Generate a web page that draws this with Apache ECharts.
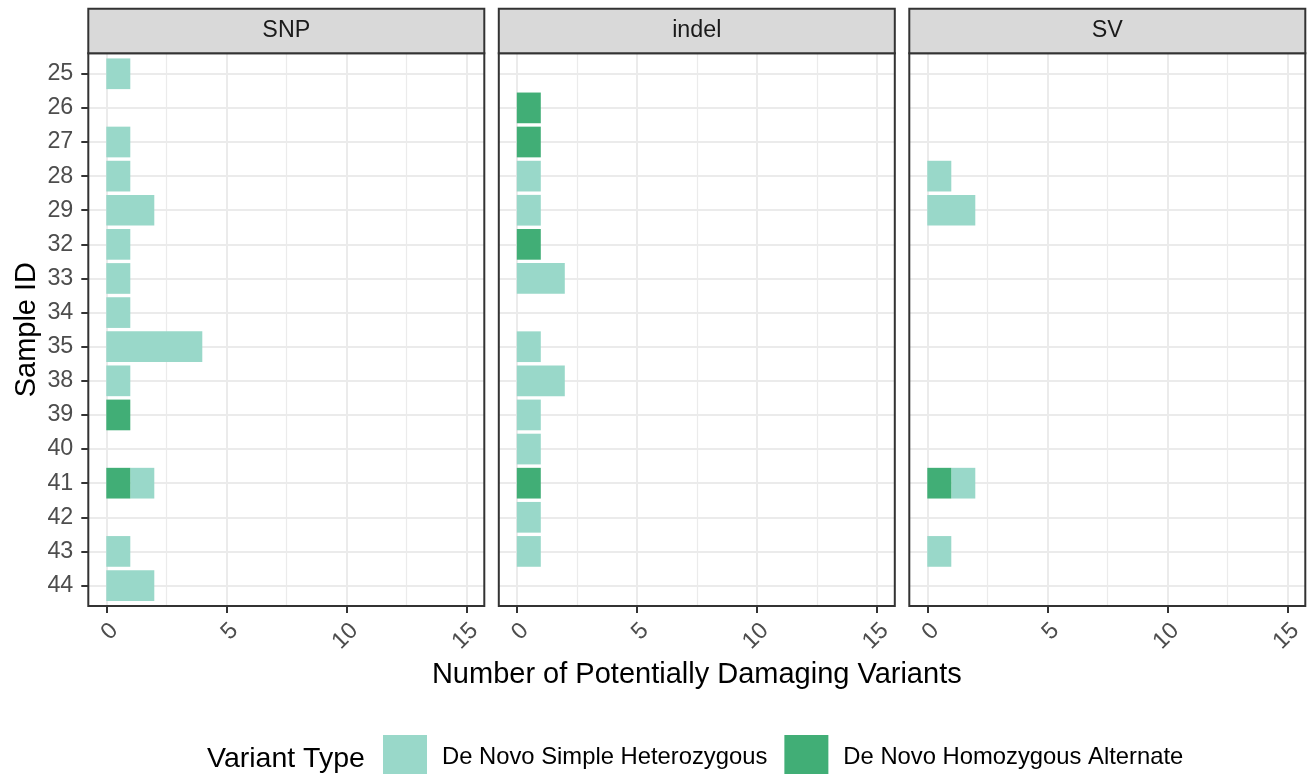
<!DOCTYPE html>
<html><head><meta charset="utf-8">
<script src="https://cdn.jsdelivr.net/npm/echarts@6/dist/echarts.min.js"></script>
<style>html,body{margin:0;padding:0;background:#fff}#chart{width:1310px;height:774px}</style>
</head><body><div id="chart"></div>
<script>
// ---- data ----
const sampleIds = ['25','26','27','28','29','32','33','34','35','38','39','40','41','42','43','44'];
const panelNames = ['SNP', 'indel', 'SV'];
const snpHet   = [1,0,1,1,2,1,1,1,4,1,0,0,1,0,1,2];
const snpHom   = [0,0,0,0,0,0,0,0,0,0,1,0,1,0,0,0];
const indelHet = [0,0,0,1,1,0,2,0,1,2,1,1,0,1,1,0];
const indelHom = [0,1,1,0,0,1,0,0,0,0,0,0,1,0,0,0];
const svHet    = [0,0,0,1,2,0,0,0,0,0,0,0,1,0,1,0];
const svHom    = [0,0,0,0,0,0,0,0,0,0,0,0,1,0,0,0];
const xTickValues = [0, 5, 10, 15];
const xMinorValues = [2.5, 7.5, 12.5];
const typeNames = ['De Novo Simple Heterozygous', 'De Novo Homozygous Alternate'];
const typeColors = ['#99d8c9', '#41ae76'];
const xTitle = 'Number of Potentially Damaging Variants';
const yTitle = 'Sample ID';
const legendTitle = 'Variant Type';

const hetByPanel = [snpHet, indelHet, svHet];
const homByPanel = [snpHom, indelHom, svHom];

// ---- layout ----
const FONT = 'Liberation Sans';
const panelLeft = [88.3, 498.8, 909.3];
const panelW = 396;
const panelTop = 53.3;
const panelH = 552.7;
const stripTop = 8.7;
const stripH = 44.6;
const yIdx = sampleIds.map((_, i) => i);

function renderBar(params, api) {
  const yi = api.value(0);
  const p0 = api.coord([api.value(1), yi]);
  const p1 = api.coord([api.value(2), yi]);
  const h = api.size([0, 0.9])[1];
  return {
    type: 'rect',
    shape: { x: p0[0], y: p0[1] - h / 2, width: p1[0] - p0[0], height: h },
    style: { fill: api.visual('color') }
  };
}

const grids = [], xAxes = [], yAxes = [], series = [], graphics = [];
panelNames.forEach((name, p) => {
  grids.push({ left: panelLeft[p], top: panelTop, width: panelW, height: panelH, outerBoundsMode: 'none', show: false });
  xAxes.push({
    type: 'value', gridIndex: p, min: -0.75, max: 15.75, splitNumber: 3, position: 'bottom',
    axisLine: { show: false, onZero: false },
    axisTick: { show: true, customValues: xTickValues, length: 7, lineStyle: { color: '#333333', width: 2 } },
    axisLabel: { show: true, customValues: xTickValues, rotate: 45, align: 'right', verticalAlign: 'top', margin: 13,
      fontFamily: FONT, fontSize: 23.3, color: '#4d4d4d' },
    splitLine: { show: true, lineStyle: { color: '#ebebeb', width: 2 } },
    name: p === 1 ? xTitle : '', nameLocation: 'middle', nameGap: 54,
    nameTextStyle: { fontFamily: FONT, fontSize: 29, color: '#000000' }
  });
  yAxes.push({
    type: 'value', gridIndex: p, inverse: true, min: -0.6, max: 15.6, splitNumber: 16, position: 'left',
    axisLine: { show: false, onZero: false },
    axisTick: { show: p === 0, customValues: yIdx, length: 7, lineStyle: { color: '#333333', width: 2 } },
    axisLabel: { show: p === 0, customValues: yIdx, margin: 15, formatter: v => sampleIds[Math.round(v)],
      fontFamily: FONT, fontSize: 23.3, color: '#4d4d4d' },
    splitLine: { show: true, lineStyle: { color: '#ebebeb', width: 2 } },
    name: p === 0 ? yTitle : '', nameLocation: 'middle', nameGap: 47, nameRotate: 90,
    nameTextStyle: { fontFamily: FONT, fontSize: 29, color: '#000000' }
  });
  const het = hetByPanel[p], hom = homByPanel[p];
  const homData = [], hetData = [];
  sampleIds.forEach((_, i) => {
    if (hom[i] > 0) homData.push([i, 0, hom[i]]);
    if (het[i] > 0) hetData.push([i, hom[i], hom[i] + het[i]]);
  });
  series.push({
    type: 'custom', name: typeNames[0], xAxisIndex: p, yAxisIndex: p, z: 2,
    encode: { x: [1, 2], y: 0 }, data: hetData, renderItem: renderBar,
    itemStyle: { color: typeColors[0] },
    markLine: {
      silent: true, z: 1, symbol: ['none', 'none'], label: { show: false }, animation: false,
      lineStyle: { color: '#ebebeb', width: 1.2, type: 'solid' },
      emphasis: { disabled: true },
      data: xMinorValues.map(v => ({ xAxis: v }))
    }
  });
  series.push({
    type: 'custom', name: typeNames[1], xAxisIndex: p, yAxisIndex: p, z: 2,
    encode: { x: [1, 2], y: 0 }, data: homData, renderItem: renderBar,
    itemStyle: { color: typeColors[1] }
  });
  // panel border
  graphics.push({ type: 'rect', z: 100, silent: true,
    shape: { x: panelLeft[p], y: panelTop, width: panelW, height: panelH },
    style: { fill: null, stroke: '#333333', lineWidth: 2 } });
  // strip
  graphics.push({ type: 'rect', z: 100, silent: true,
    shape: { x: panelLeft[p], y: stripTop, width: panelW, height: stripH },
    style: { fill: '#d9d9d9', stroke: '#333333', lineWidth: 2 } });
  graphics.push({ type: 'text', z: 101, silent: true,
    x: panelLeft[p] + panelW / 2, y: stripTop + stripH / 2,
    style: { text: name, fontFamily: FONT, fontSize: 23.3, fill: '#1a1a1a', align: 'center', verticalAlign: 'middle' } });
});

graphics.push({ type: 'text', silent: true, x: 207, y: 759,
  style: { text: legendTitle, fontFamily: FONT, fontSize: 28.5, fill: '#000000', align: 'left', verticalAlign: 'middle' } });

const chart = echarts.init(document.getElementById('chart'), null, { renderer: 'canvas' });
chart.setOption({
  animation: false,
  backgroundColor: '#ffffff',
  grid: grids,
  xAxis: xAxes,
  yAxis: yAxes,
  series: series,
  graphic: graphics,
  legend: {
    data: typeNames, left: 383, top: 735, padding: 0, orient: 'horizontal',
    icon: 'rect', itemWidth: 44, itemHeight: 44, itemGap: 17, selectedMode: false,
    textStyle: { fontFamily: FONT, fontSize: 23.8, color: '#000000', padding: [0, 0, 0, 10] }
  }
});
</script></body></html>
